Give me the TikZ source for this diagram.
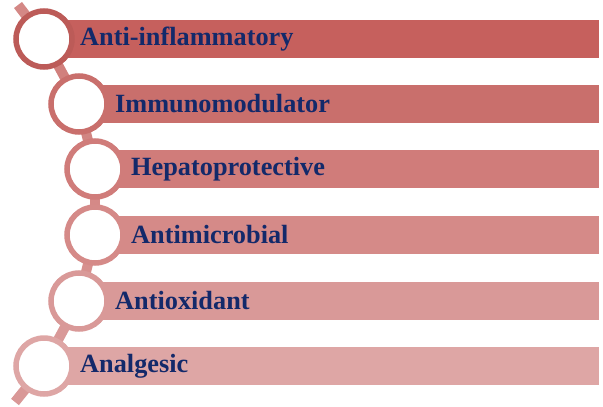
\documentclass[tikz,border=0pt]{standalone}
\usepackage{fontspec}
\setmainfont{Liberation Serif}
\usepackage{tikz}
\usetikzlibrary{positioning}
\definecolor{navy}{HTML}{13296A}
\definecolor{ba}{HTML}{C6605D}
\definecolor{bb}{HTML}{C96F6C}
\definecolor{bc}{HTML}{D07C7A}
\definecolor{bd}{HTML}{D58A88}
\definecolor{be}{HTML}{D99998}
\definecolor{bf}{HTML}{DEA6A5}
\begin{document}
\begin{tikzpicture}[x=1pt,y=-1pt,ring/.style={circle,draw,line width=5.5pt,fill=white,minimum size=56pt,inner sep=0pt},bar/.style={anchor=west,minimum height=38pt,inner xsep=12pt,inner ysep=0pt,align=left,text=navy,font=\bfseries\fontsize{26.3}{30}\selectfont},link/.style={line width=10pt}]
\useasboundingbox (0,0) rectangle (603,407);
\coordinate (t) at (18,5);\coordinate (p1) at (44,39);\coordinate (p2) at (79,104);\coordinate (p3) at (95,169);
\coordinate (p4) at (95,235);\coordinate (p5) at (79,301);\coordinate (p6) at (44,366);\coordinate (u) at (15,402);
\node[bar,fill=ba,text width=507pt] (r1) at (68,39) {Anti-inflammatory};
\node[bar,fill=bb,text width=472pt] (r2) at (103,104) {Immunomodulator};
\node[bar,fill=bc,text width=456pt] (r3) at (119,169) {Hepatoprotective};
\node[bar,fill=bd,text width=456pt] (r4) at (119,235) {Antimicrobial};
\node[bar,fill=be,text width=472pt] (r5) at (103,301) {Antioxidant};
\node[bar,fill=bf,text width=507pt] (r6) at (68,366) {Analgesic};
\draw[link,ba!75!white](t)--(p1);\draw[link,ba!80!white](p1)--(p2);\draw[link,bb!85!white](p2)--(p3);
\draw[link,bc!90!white](p3)--(p4);\draw[link,bd!95!white](p4)--(p5);\draw[link,be](p5)--(p6);\draw[link,bf!80!ba](p6)--(u);
\node[ring,draw=ba!95!black] (c1) at (p1) {};
\node[ring,draw=bb] (c2) at (p2) {};
\node[ring,draw=bc] (c3) at (p3) {};
\node[ring,draw=bd] (c4) at (p4) {};
\node[ring,draw=be] (c5) at (p5) {};
\node[ring,draw=bf] (c6) at (p6) {};
\end{tikzpicture}
\end{document}
